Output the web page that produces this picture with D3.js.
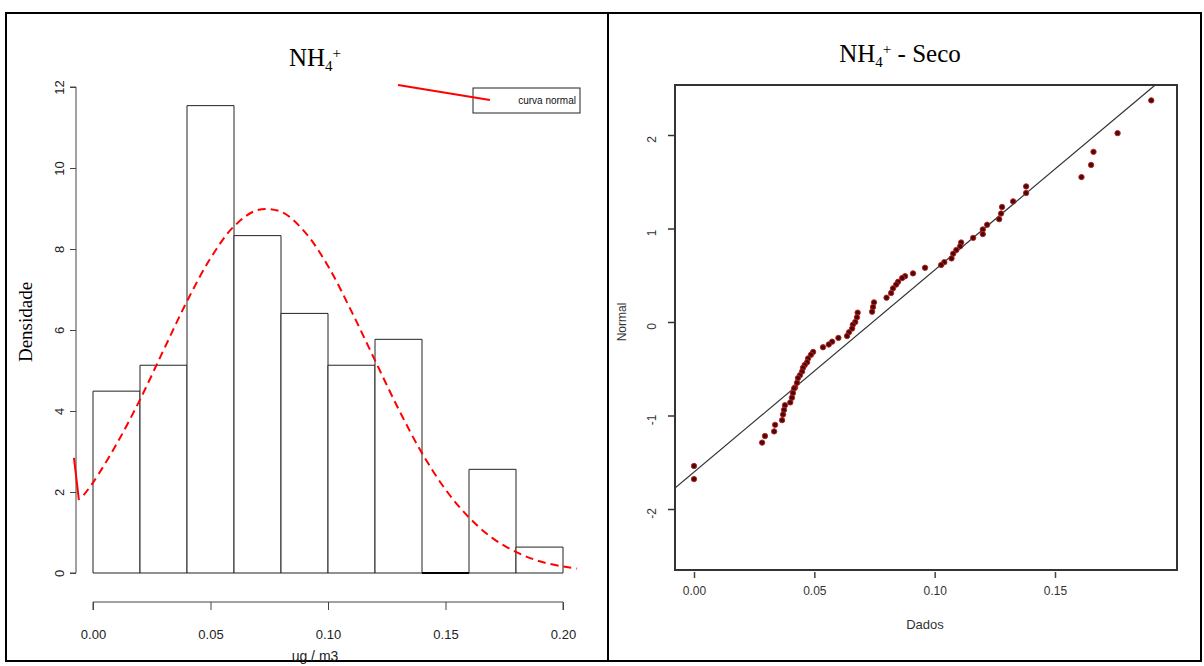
<!DOCTYPE html>
<html><head><meta charset="utf-8">
<script src="https://cdn.jsdelivr.net/npm/d3@7"></script>
<style>body{margin:0;background:#fff}svg{display:block}</style>
</head><body>
<svg id="c" width="1204" height="666"></svg>
<script>
// ---------- data ----------
const binEdges = [0, 0.02, 0.04, 0.06, 0.08, 0.10, 0.12, 0.14, 0.16, 0.18, 0.20];
const density = [4.49, 5.13, 11.54, 8.33, 6.41, 5.13, 5.77, 0, 2.56, 0.64];
const histXTicks = [0, 0.05, 0.10, 0.15, 0.20];
const histYTicks = [0, 2, 4, 6, 8, 10, 12];
// normal curve
const curveX = [-0.004, 0, 0.01, 0.02, 0.03, 0.04, 0.05, 0.06, 0.07, 0.08, 0.09, 0.10, 0.11, 0.12, 0.13, 0.14, 0.15, 0.16, 0.17, 0.18, 0.19, 0.20, 0.206];
const curveY = [1.92, 2.23, 3.18, 4.28, 5.50, 6.71, 7.77, 8.56, 8.96, 8.92, 8.43, 7.58, 6.46, 5.25, 4.05, 2.96, 2.06, 1.37, 0.86, 0.52, 0.29, 0.16, 0.11];
// stray red legend-line segments visible in the picture
const strayTop = [[0.1298, 12.05], [0.1689, 11.68]];
const strayLeft = [[-0.0081, 2.84], [-0.0060, 1.80]];
const legendLabel = "curva normal";

// QQ plot points: [data, normal quantile]
const qqX = [0.190, 0.176, 0.166, 0.165, 0.161, 0.138, 0.138, 0.1326, 0.128, 0.1276, 0.1268, 0.1218, 0.120, 0.120, 0.116, 0.111, 0.1106, 0.109, 0.1077, 0.107, 0.104, 0.1027, 0.096,
  0.091, 0.0877, 0.0865, 0.0848, 0.084, 0.0827, 0.0819, 0.080, 0.0748, 0.0744, 0.074, 0.068, 0.0677, 0.067, 0.066, 0.0657, 0.0644, 0.0636, 0.060, 0.0574, 0.056, 0.0536, 0.0495, 0.0486, 0.0474, 0.047, 0.046, 0.0453, 0.0449, 0.044, 0.0432, 0.0428, 0.042,
  0.0416, 0.0411, 0.0407, 0.040, 0.0378, 0.0374, 0.037, 0.0366, 0.0337, 0.0333, 0.0295, 0.0283, 0.0, 0.0];
const qqY = [2.37, 2.02, 1.82, 1.68, 1.55, 1.45, 1.38, 1.29, 1.23, 1.16, 1.10, 1.04, 0.99, 0.94, 0.90, 0.85, 0.81, 0.77, 0.73, 0.68, 0.64, 0.61, 0.58,
  0.52, 0.49, 0.47, 0.43, 0.40, 0.36, 0.31, 0.26, 0.21, 0.16, 0.11, 0.10, 0.05, 0.0, -0.03, -0.07, -0.11, -0.15, -0.17, -0.21, -0.24, -0.27, -0.32, -0.35, -0.39, -0.43, -0.46, -0.49, -0.53, -0.57, -0.60, -0.65, -0.70,
  -0.71, -0.76, -0.81, -0.86, -0.89, -0.94, -0.99, -1.05, -1.10, -1.17, -1.22, -1.29, -1.54, -1.68];
const qqLine = [[-0.0079, -1.775], [0.1914, 2.53]];
const qqXTicks = [0, 0.05, 0.10, 0.15];
const qqYTicks = [-2, -1, 0, 1, 2];

// ---------- drawing ----------
const svg = d3.select("#c");
const sans = "'Liberation Sans', Arial, sans-serif";
const serif = "'Liberation Serif', 'Times New Roman', serif";

// outer frame
svg.append("rect").attr("x", 6).attr("y", 13).attr("width", 1195).attr("height", 648)
  .attr("fill", "none").attr("stroke", "#000").attr("stroke-width", 2);
svg.append("line").attr("x1", 608).attr("x2", 608).attr("y1", 13).attr("y2", 661)
  .attr("stroke", "#000").attr("stroke-width", 2);

// ===== left: histogram =====
const xL = d3.scaleLinear().domain([0, 0.2]).range([93, 563]);
const yL = d3.scaleLinear().domain([0, 12]).range([573, 87]);
const gL = svg.append("g");

gL.selectAll("path.bar").data(density).join("path").attr("class", "bar")
  .attr("d", (d, i) => {
    const x0 = xL(binEdges[i]), x1 = xL(binEdges[i + 1]), y0 = yL(0), y1 = yL(d);
    return `M${x0},${y0}L${x0},${y1}L${x1},${y1}L${x1},${y0}Z`;
  })
  .attr("fill", "#fff").attr("stroke", d => d === 0 ? "#000" : "#222")
  .attr("stroke-width", d => d === 0 ? 2 : 1);

// y axis
const axL = gL.append("g").attr("transform", `translate(76,0)`)
  .call(d3.axisLeft(yL).tickValues(histYTicks).tickSize(6).tickFormat(d3.format("d")));
axL.select(".domain").attr("stroke", "#444").attr("d", `M-6,${yL(0)}H0V${yL(12)}H-6`);
axL.selectAll(".tick line").attr("stroke", "#444");
axL.selectAll(".tick text").attr("font-family", sans).attr("font-size", 13).attr("fill", "#222")
  .attr("text-anchor", "middle").attr("x", 0).attr("y", 0).attr("dy", 0)
  .attr("transform", "translate(-12,0) rotate(-90)");

// x axis
const axX = gL.append("g").attr("transform", `translate(0,602)`)
  .call(d3.axisBottom(xL).tickValues(histXTicks).tickSize(8).tickFormat(d3.format(".2f")));
axX.select(".domain").attr("stroke", "#444").attr("d", `M${xL(0)},8V0H${xL(0.2)}V8`);
axX.selectAll(".tick line").attr("stroke", "#444");
axX.selectAll(".tick text").attr("font-family", sans).attr("font-size", 13).attr("fill", "#222").attr("y", 28);

// normal curve
const lineL = d3.line().x(d => xL(d[0])).y(d => yL(d[1])).curve(d3.curveCatmullRom);
gL.append("path").datum(curveX.map((x, i) => [x, curveY[i]])).attr("d", lineL)
  .attr("fill", "none").attr("stroke", "#ff0000").attr("stroke-width", 2).attr("stroke-dasharray", "8,5");

// legend
gL.append("rect").attr("x", 473).attr("y", 88).attr("width", 107).attr("height", 25)
  .attr("fill", "#fff").attr("stroke", "#222").attr("stroke-width", 1);
gL.append("text").attr("x", 576).attr("y", 104).attr("text-anchor", "end")
  .attr("font-family", sans).attr("font-size", 10).attr("fill", "#111").text(legendLabel);
const segL = d3.line().x(d => xL(d[0])).y(d => yL(d[1]));
gL.append("path").datum(strayTop).attr("d", segL).attr("stroke", "#ff0000").attr("stroke-width", 2).attr("fill", "none");
gL.append("path").datum(strayLeft).attr("d", segL).attr("stroke", "#ff0000").attr("stroke-width", 2).attr("fill", "none");

// titles
const tL = gL.append("text").attr("x", 315).attr("y", 66).attr("text-anchor", "middle")
  .attr("font-family", serif).attr("font-size", 25).attr("fill", "#000");
tL.append("tspan").text("NH");
tL.append("tspan").attr("font-size", 15).attr("dy", 5).text("4");
tL.append("tspan").attr("font-size", 15).attr("dy", -13).text("+");

gL.append("text").attr("transform", "translate(32,322) rotate(-90)").attr("text-anchor", "middle")
  .attr("font-family", serif).attr("font-size", 19).attr("fill", "#000").text("Densidade");
gL.append("text").attr("x", 315).attr("y", 661).attr("text-anchor", "middle")
  .attr("font-family", sans).attr("font-size", 14).attr("fill", "#222").text("ug / m3");

// ===== right: QQ plot =====
const xR = d3.scaleLinear().domain([0, 0.15]).range([694, 1055]);
const yR = d3.scaleLinear().domain([-2, 2]).range([509, 135]);
const box = { x0: 675, x1: 1177, y0: 85, y1: 570 };
const gR = svg.append("g");

svg.append("clipPath").attr("id", "clipR").append("rect")
  .attr("x", box.x0).attr("y", box.y0).attr("width", box.x1 - box.x0).attr("height", box.y1 - box.y0);

gR.append("path").datum(qqLine).attr("clip-path", "url(#clipR)")
  .attr("d", d3.line().x(d => xR(d[0])).y(d => yR(d[1])))
  .attr("stroke", "#333").attr("stroke-width", 1.2).attr("fill", "none");

gR.selectAll("circle").data(qqX.map((x, i) => [x, qqY[i]])).join("circle")
  .attr("cx", d => xR(d[0])).attr("cy", d => yR(d[1])).attr("r", 2.7)
  .attr("fill", "#4a0a0a").attr("stroke", "#c02020").attr("stroke-width", 0.9);

gR.append("rect").attr("x", box.x0).attr("y", box.y0).attr("width", box.x1 - box.x0).attr("height", box.y1 - box.y0)
  .attr("fill", "none").attr("stroke", "#333").attr("stroke-width", 2);

const ayR = gR.append("g").attr("transform", `translate(${box.x0},0)`)
  .call(d3.axisLeft(yR).tickValues(qqYTicks).tickSize(7).tickFormat(d3.format("d")));
ayR.select(".domain").remove();
ayR.selectAll(".tick line").attr("stroke", "#333").attr("stroke-width", 1.5);
ayR.selectAll(".tick text").attr("font-family", sans).attr("font-size", 12).attr("fill", "#333")
  .attr("text-anchor", "middle").attr("x", 0).attr("y", 0).attr("dy", 0)
  .attr("transform", "translate(-19,4) rotate(-90)").text(d => d < 0 ? "-" + Math.abs(d) : d);

const axR = gR.append("g").attr("transform", `translate(0,${box.y1})`)
  .call(d3.axisBottom(xR).tickValues(qqXTicks).tickSize(8).tickFormat(d3.format(".2f")));
axR.select(".domain").remove();
axR.selectAll(".tick line").attr("stroke", "#444").attr("stroke-width", 1.5).attr("y1", 2);
axR.selectAll(".tick text").attr("font-family", sans).attr("font-size", 12).attr("fill", "#333").attr("y", 16);

gR.append("text").attr("x", 925).attr("y", 629).attr("text-anchor", "middle")
  .attr("font-family", sans).attr("font-size", 13).attr("fill", "#333").text("Dados");
gR.append("text").attr("transform", "translate(626,322) rotate(-90)").attr("text-anchor", "middle")
  .attr("font-family", sans).attr("font-size", 12).attr("fill", "#333").text("Normal");

const tR = gR.append("text").attr("x", 900).attr("y", 62).attr("text-anchor", "middle")
  .attr("font-family", serif).attr("font-size", 25).attr("fill", "#000");
tR.append("tspan").text("NH");
tR.append("tspan").attr("font-size", 15).attr("dy", 5).text("4");
tR.append("tspan").attr("font-size", 15).attr("dy", -13).text("+");
tR.append("tspan").attr("dy", 8).text(" - Seco");
</script>
</body></html>
